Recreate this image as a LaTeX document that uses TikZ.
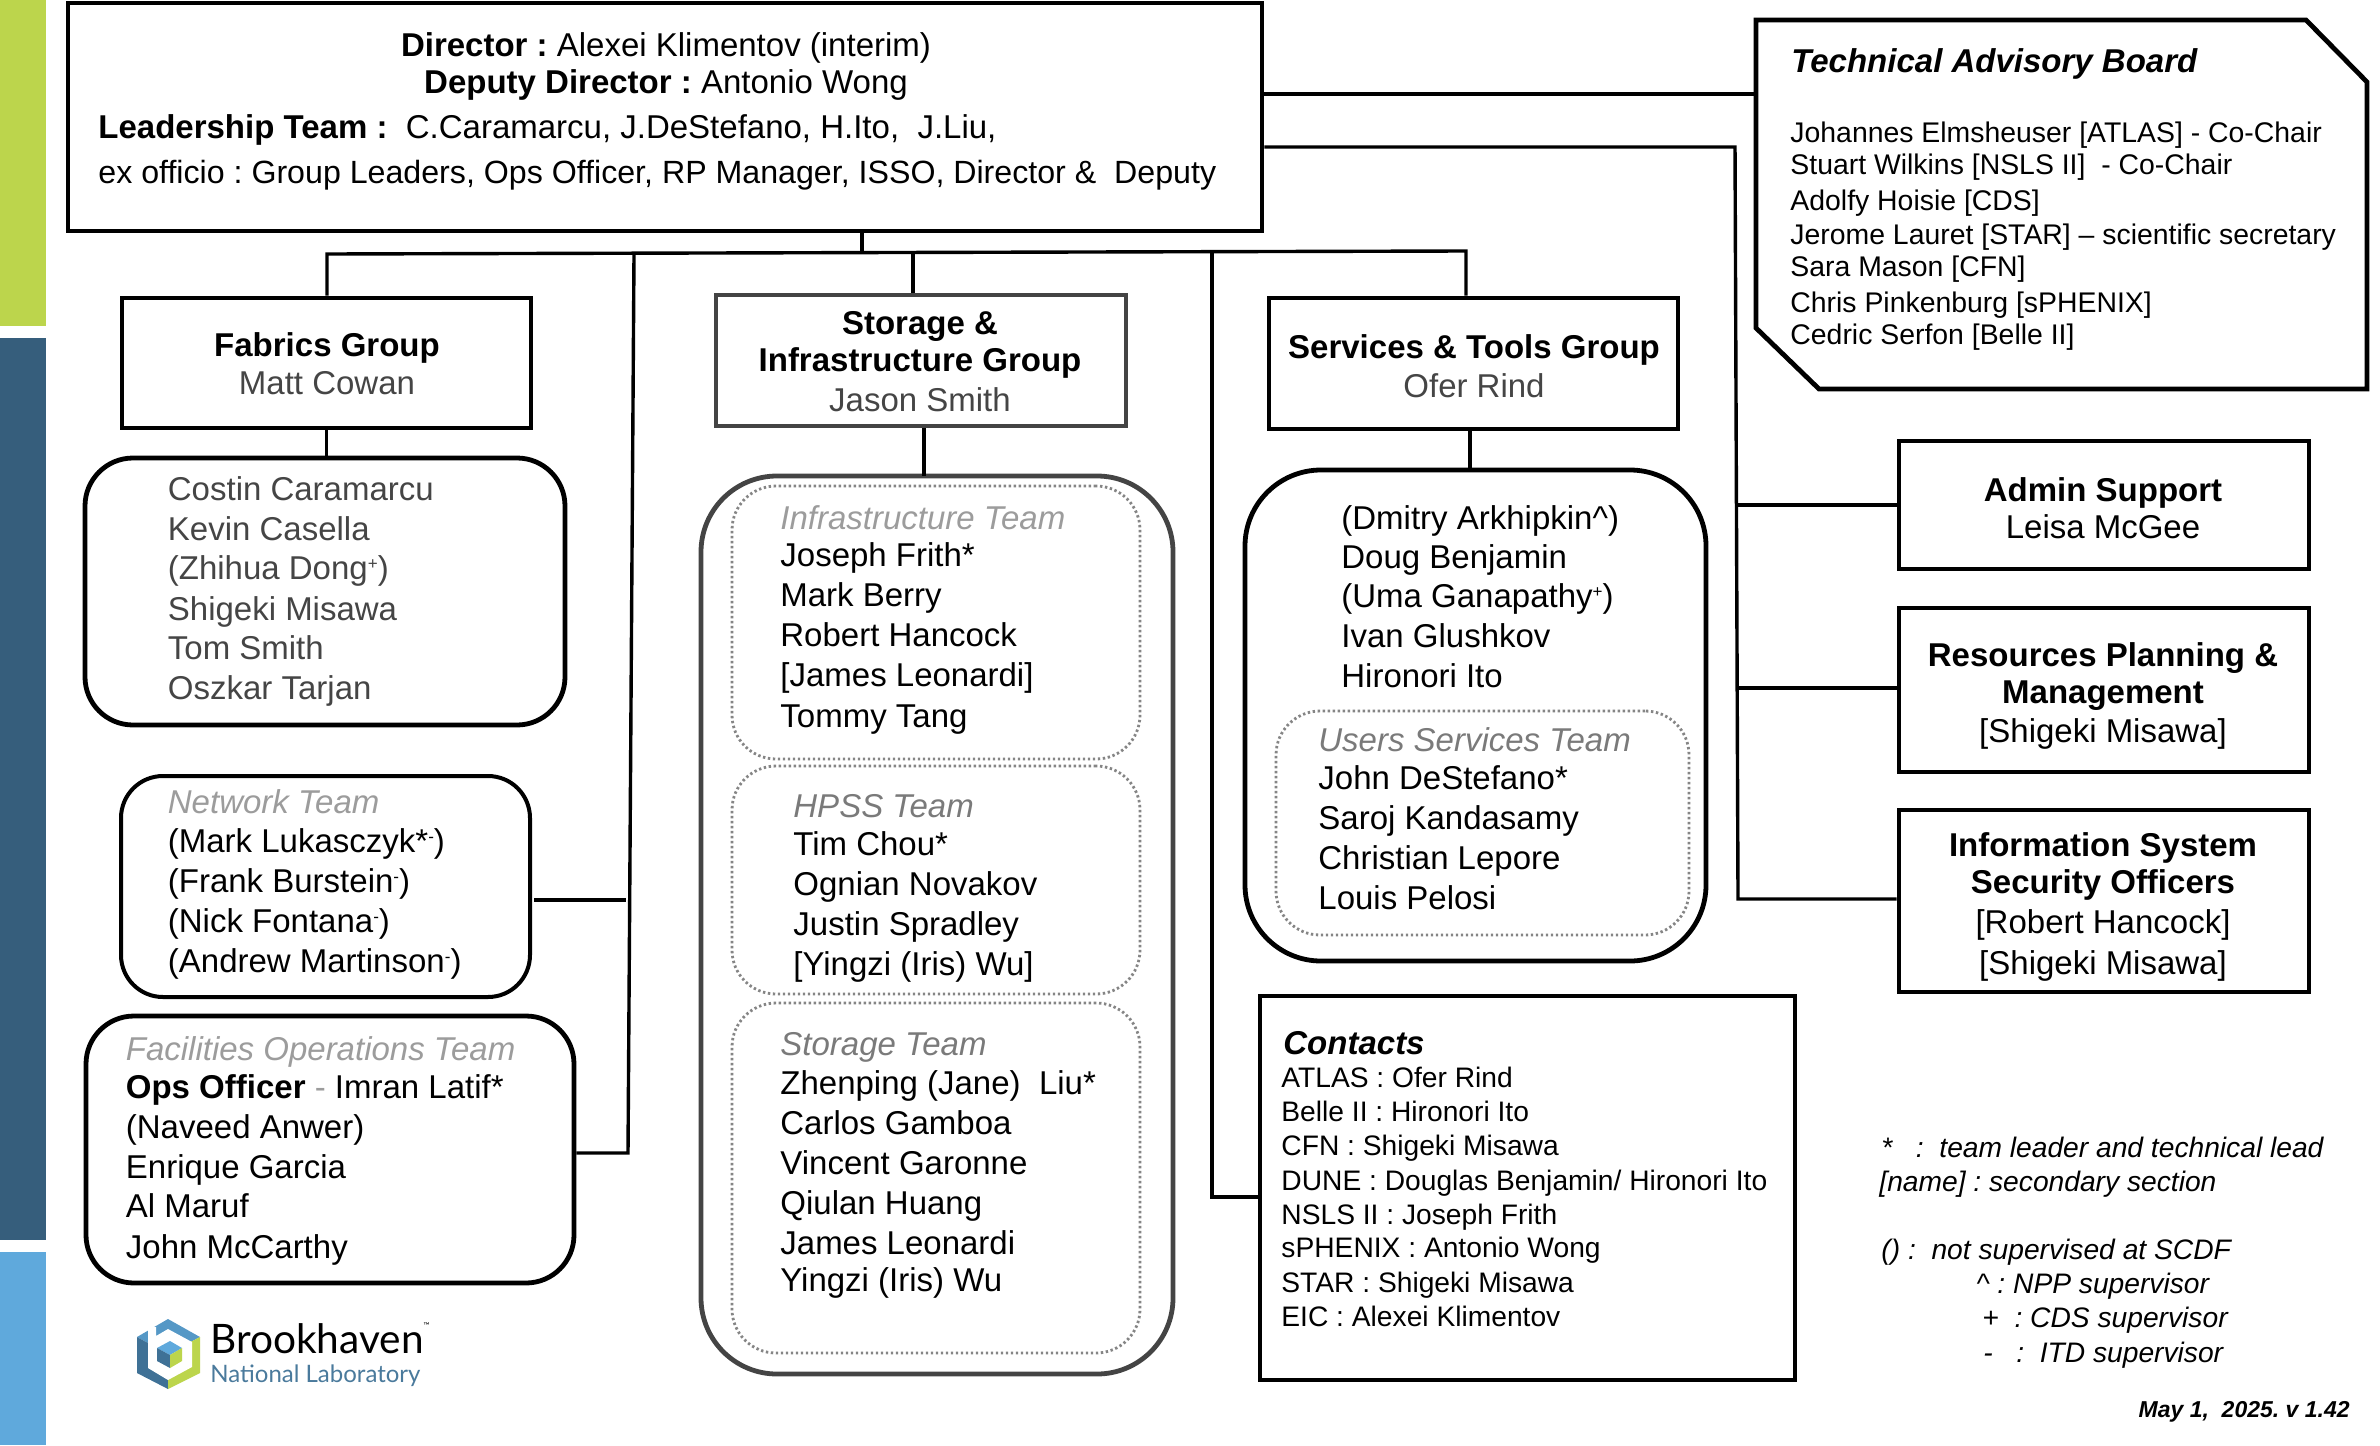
\documentclass[tikz,border=0pt]{standalone}
\usepackage{fontspec}
\setmainfont{Liberation Sans}
\newfontfamily\logofont{Lato}
\usetikzlibrary{fit,calc}
\definecolor{sideG}{HTML}{BCD54C}
\definecolor{sideD}{HTML}{365E7C}
\definecolor{sideL}{HTML}{5FA9DC}
\definecolor{gName}{HTML}{454545}
\definecolor{gTeam}{HTML}{9C9C9C}
\definecolor{gDark}{HTML}{7A7A7A}
\definecolor{gFrame}{HTML}{444444}
\definecolor{gDot}{HTML}{858585}
\definecolor{logoB}{HTML}{3F7196}
\definecolor{logoT}{HTML}{4A7A9C}
\newcommand{\fsA}{\frenchspacing\fontsize{16.5}{20}\selectfont}
\newcommand{\fsB}{\frenchspacing\fontsize{14.2}{18}\selectfont}
\newcommand{\fsC}{\frenchspacing\fontsize{14.1}{18}\selectfont}
\newcommand{\fsE}{\frenchspacing\fontsize{11.5}{14}\selectfont}
\newcommand{\fsF}{\frenchspacing\fontsize{16.08}{20}\selectfont}
\newcommand{\sps}[1]{\raisebox{0.55ex}{\fontsize{8.5}{9}\selectfont #1}}
\tikzset{
  tx/.style={anchor=base west,inner sep=0pt,font=\fsA},
  txc/.style={anchor=base,inner sep=0pt,font=\fsA},
  nm/.style={tx,text=gName},
  team/.style={tx,font=\fsA\itshape,text=gTeam},
  tab/.style={tx,font=\fsB},
  con/.style={tx,font=\fsC},
  lg/.style={tx,font=\fsC\itshape},
  sq/.style={draw=black,line width=2.4pt,inner sep=0pt,fill=white},
  rd/.style={draw=black,line width=2.4pt,inner sep=0pt,rounded corners=24pt,fill=none},
  rdb/.style={draw=black,line width=2.4pt,inner sep=0pt,rounded corners=38pt,fill=none},
  dot/.style={draw=gDot,line width=1.4pt,dash pattern=on 1.2pt off 1.3pt,inner sep=0pt,rounded corners=22pt},
  conn/.style={draw=black,line width=1.7pt},
}
\begin{document}
\begin{tikzpicture}[x=0.5pt,y=-0.5pt]
\useasboundingbox (0,0) rectangle (2380,1445);
\fill[white] (0,0) rectangle (2380,1445);
\fill[sideG] (0,0) rectangle (46,326);
\fill[sideD] (0,338) rectangle (46,1240);
\fill[sideL] (0,1252) rectangle (46,1445);

% boxes
\node[sq,fit={(68,3)(1262,231)}] (dir) {};
\node[sq,fit={(122,298)(531,428)}] (fab) {};
\node[sq,draw=gFrame,fit={(716,295)(1126,426)}] (sg) {};
\node[sq,fit={(1269,298)(1678,429)}] (st) {};
\node[rd,fit={(85,458)(565,725)}] (fabl) {};
\node[rd,line width=2pt,rounded corners=21pt,fit={(121,776)(530,997)}] (net) {};
\node[rd,fit={(86,1016)(574,1283)}] (fac) {};
\node[rdb,draw=gFrame,fit={(701,476)(1173,1374)}] (sgl) {};
\node[dot,fit={(732,486)(1140,759)}] (infra) {};
\node[dot,fit={(732,766)(1140,994)}] (hpss) {};
\node[dot,fit={(732,1003)(1140,1353)}] (stor) {};
\node[rdb,fit={(1245,470)(1706,961)}] (stl) {};
\node[dot,fit={(1276,711)(1689,935)}] (users) {};
\node[sq,fit={(1899,441)(2309,569)}] (adm) {};
\node[sq,fit={(1899,608)(2309,772)}] (res) {};
\node[sq,fit={(1899,810)(2309,992)}] (iso) {};
\node[sq,fit={(1260,996)(1795,1380)}] (cont) {};
\coordinate (tabA) at (1756,20);
\coordinate (tabB) at (2306,20);
\coordinate (tabC) at (2367,82);
\coordinate (tabD) at (2367,389);
\coordinate (tabE) at (1819,389);
\coordinate (tabF) at (1756,328);
\draw[line width=2.4pt,line join=miter] (tabA) -- (tabB) -- (tabC) -- (tabD) -- (tabE) -- (tabF) -- cycle;

% connectors
\coordinate (busL) at (327,254);
\coordinate (busR) at (1466,251);
\coordinate (jD) at (862,253);
\coordinate (jV1) at (634,254);
\coordinate (jV1b) at (628,1153);
\coordinate (jS) at (913,254);
\coordinate (jV2) at (1212,253);
\coordinate (jV2b) at (1212,1197);
\coordinate (jN) at (534,900);
\coordinate (jNb) at (626,900);
\coordinate (jT) at (1735,147);
\coordinate (jTb) at (1738,899);
\coordinate (jSg) at (924,476);
\coordinate (jSt) at (1470,470);
\coordinate (jTab) at (1756,94);
\coordinate (jAd) at (1738,505);
\coordinate (jRe) at (1736,688);
\draw[conn] (dir.south -| jD) -- (jD);
\draw[conn] (busL |- fab.north) -- (busL) -- (busR) -- (busR |- st.north);
\draw[conn] (jV1) -- (jV1b) -- (fac.east |- jV1b);
\draw[conn] (jN) -- (jNb);
\draw[conn] (jS) -- (jS |- sg.north);
\draw[conn] (jV2) -- (jV2b) -- (cont.west |- jV2b);
\draw[conn] (fab.south) -- (fab.south |- fabl.north);
\draw[conn] (sg.south -| jSg) -- (jSg);
\draw[conn] (st.south -| jSt) -- (jSt);
\draw[conn] (dir.east |- jTab) -- (jTab);
\draw[conn] (dir.east |- jT) -- (jT) -- (jTb) -- (iso.west |- jTb);
\draw[conn] (jAd) -- (adm.west |- jAd);
\draw[conn] (jRe) -- (res.west |- jRe);

% director
\node[txc] (d1) at (666,57) {\textbf{Director :} Alexei Klimentov (interim)};
\node[txc] (d2) at (666,94) {\textbf{Deputy Director :} Antonio Wong};
\node[tx] (d3) at (98,138) {\textbf{Leadership Team :}~ C.Caramarcu, J.DeStefano, H.Ito,~ J.Liu,};
\node[tx,font=\fsF] (d4) at (98,183) {ex officio : Group Leaders, Ops Officer, RP Manager, ISSO, Director \&~ Deputy};

% fabrics
\node[txc,font=\fsA\bfseries] (f0) at (327,356) {Fabrics Group};
\node[txc,text=gName] (f00) at (327,394) {Matt Cowan};
\node[nm] (f1) at (167.5,500) {Costin Caramarcu};
\node[nm] (f2) at (167.5,540) {Kevin Casella};
\node[nm] (f3) at (167.5,579) {(Zhihua Dong\sps{+})};
\node[nm] (f4) at (167.5,620) {Shigeki Misawa};
\node[nm] (f5) at (167.5,659) {Tom Smith};
\node[nm] (f6) at (167.5,699) {Oszkar Tarjan};

% network
\node[team] (n0) at (167.5,813) {Network Team};
\node[tx] (n1) at (167.5,852) {(Mark Lukasczyk*\sps{-})};
\node[tx] (n2) at (167.5,892) {(Frank Burstein\sps{-})};
\node[tx] (n3) at (167.5,932) {(Nick Fontana\sps{-})};
\node[tx] (n4) at (167.5,972) {(Andrew Martinson\sps{-})};

% facilities
\node[team] (o0) at (125.5,1060) {Facilities Operations Team};
\node[tx] (o1) at (125.5,1098) {\textbf{Ops Officer} {\color{gTeam}-} Imran Latif*};
\node[tx] (o2) at (125.5,1138) {(Naveed Anwer)};
\node[tx] (o3) at (125.5,1178) {Enrique Garcia};
\node[tx] (o4) at (125.5,1217) {Al Maruf};
\node[tx] (o5) at (125.5,1258) {John McCarthy};

% storage group
\node[txc,font=\fsA\bfseries] (s0) at (920,334) {Storage \&};
\node[txc,font=\fsA\bfseries] (s00) at (920,371) {Infrastructure Group};
\node[txc,text=gName] (s000) at (920,411) {Jason Smith};
\node[team] (i0) at (780,529) {Infrastructure Team};
\node[tx] (i1) at (780,566) {Joseph Frith*};
\node[tx] (i2) at (780,606) {Mark Berry};
\node[tx] (i3) at (780,646) {Robert Hancock};
\node[tx] (i4) at (780,686) {[James Leonardi]};
\node[tx] (i5) at (780,727) {Tommy Tang};
\node[team,text=gDark] (h0) at (793,817) {HPSS Team};
\node[tx] (h1) at (793,855) {Tim Chou*};
\node[tx] (h2) at (793,895) {Ognian Novakov};
\node[tx] (h3) at (793,935) {Justin Spradley};
\node[tx] (h4) at (793,975) {[Yingzi (Iris) Wu]};
\node[team,text=gDark] (t0) at (780,1055) {Storage Team};
\node[tx] (t1) at (780,1094) {Zhenping (Jane)~ Liu*};
\node[tx] (t2) at (780,1134) {Carlos Gamboa};
\node[tx] (t3) at (780,1174) {Vincent Garonne};
\node[tx] (t4) at (780,1214) {Qiulan Huang};
\node[tx] (t5) at (780,1254) {James Leonardi};
\node[tx] (t6) at (780,1291) {Yingzi (Iris) Wu};

% services
\node[txc,font=\fsA\bfseries] (v0) at (1474,358) {Services \& Tools Group};
\node[txc,text=gName] (v00) at (1474,397) {Ofer Rind};
\node[tx] (v1) at (1341,529) {(Dmitry Arkhipkin\textasciicircum)};
\node[tx] (v2) at (1341,568) {Doug Benjamin};
\node[tx] (v3) at (1341,607) {(Uma Ganapathy\sps{+})};
\node[tx] (v4) at (1341,647) {Ivan Glushkov};
\node[tx] (v5) at (1341,687) {Hironori Ito};
\node[team,text=gDark] (u0) at (1318,751) {Users Services Team};
\node[tx] (u1) at (1318,789) {John DeStefano*};
\node[tx] (u2) at (1318,829) {Saroj Kandasamy};
\node[tx] (u3) at (1318,869) {Christian Lepore};
\node[tx] (u4) at (1318,909) {Louis Pelosi};

% TAB
\node[tx,font=\fsA\bfseries\itshape] (b0) at (1791,73) {Technical Advisory Board};
\node[tab] (b1) at (1790,142) {Johannes Elmsheuser [ATLAS] - Co-Chair};
\node[tab] (b2) at (1790,174) {Stuart Wilkins [NSLS II]~ - Co-Chair};
\node[tab] (b3) at (1790,210) {Adolfy Hoisie [CDS]};
\node[tab] (b4) at (1790,244) {Jerome Lauret [STAR] – scientific secretary};
\node[tab] (b5) at (1790,276) {Sara Mason [CFN]};
\node[tab] (b6) at (1790,312) {Chris Pinkenburg [sPHENIX]};
\node[tab] (b7) at (1790,344) {Cedric Serfon [Belle II]};

% side boxes
\node[txc,font=\fsA\bfseries] (a0) at (2103,501) {Admin Support};
\node[txc] (a1) at (2103,538) {Leisa McGee};
\node[txc,font=\fsA\bfseries] (r0) at (2103,666) {Resources Planning \&};
\node[txc,font=\fsA\bfseries] (r1) at (2103,703) {Management};
\node[txc] (r2) at (2103,742) {[Shigeki Misawa]};
\node[txc,font=\fsA\bfseries] (x0) at (2103,856) {Information System};
\node[txc,font=\fsA\bfseries] (x1) at (2103,893) {Security Officers};
\node[txc] (x2) at (2103,933) {[Robert Hancock]};
\node[txc] (x3) at (2103,974) {[Shigeki Misawa]};

% contacts
\node[tx,font=\fsA\bfseries\itshape] (c0) at (1283,1054) {Contacts};
\node[con] (c1) at (1281,1087) {ATLAS : Ofer Rind};
\node[con] (c2) at (1281,1121) {Belle II : Hironori Ito};
\node[con] (c3) at (1281,1155) {CFN : Shigeki Misawa};
\node[con] (c4) at (1281,1190) {DUNE : Douglas Benjamin/ Hironori Ito};
\node[con] (c5) at (1281,1224) {NSLS II : Joseph Frith};
\node[con] (c6) at (1281,1257) {sPHENIX : Antonio Wong};
\node[con] (c7) at (1281,1292) {STAR : Shigeki Misawa};
\node[con] (c8) at (1281,1326) {EIC : Alexei Klimentov};

% legend
\node[lg] (l1) at (1881,1157) {*~~~:~~team leader and technical lead};
\node[lg] (l2) at (1879,1191) {[name] : secondary section};
\node[lg] (l3) at (1881,1259) {() :~~not supervised at SCDF};
\node[lg] (l4) at (1976,1293) {\textasciicircum\ : NPP supervisor};
\node[lg] (l5) at (1982,1327) {+~~: CDS supervisor};
\node[lg] (l6) at (1983,1362) {-~~~:~~ITD supervisor};
\node[anchor=base east,inner sep=0pt,font=\fsE\bfseries\itshape] (dt) at (2350,1417) {May 1,~~2025. v 1.42};

% logo
\fill[sideL!90!black] (137,1337) -- (168,1319) -- (200,1337) -- (168,1354) -- cycle;
\fill[logoB] (137,1337) -- (137,1373) -- (168,1389) -- (168,1354) -- cycle;
\fill[sideG] (200,1337) -- (200,1373) -- (168,1389) -- (168,1354) -- cycle;
\fill[white] (168,1329) -- (192,1342) -- (192,1367) -- (168,1380) -- (148,1368) -- (148,1327) -- (156,1327) -- (156,1336) -- cycle;
\fill[sideL] (157,1348) -- (170,1341) -- (182,1348) -- (170,1355) -- cycle;
\fill[logoB] (157,1348) -- (157,1361) -- (170,1368) -- (170,1355) -- cycle;
\fill[sideG] (182,1348) -- (182,1361) -- (170,1368) -- (170,1355) -- cycle;
\node[anchor=base west,inner sep=0pt,font=\logofont\fontsize{20.3}{22}\selectfont] (lg1) at (210,1353) {Brookhaven\raisebox{1.2ex}{\fontsize{4}{4}\selectfont ™}};
\node[anchor=base west,inner sep=0pt,text=logoT,font=\logofont\fontsize{12}{14}\selectfont] (lg2) at (210,1382) {National Laboratory};
\end{tikzpicture}
\end{document}
